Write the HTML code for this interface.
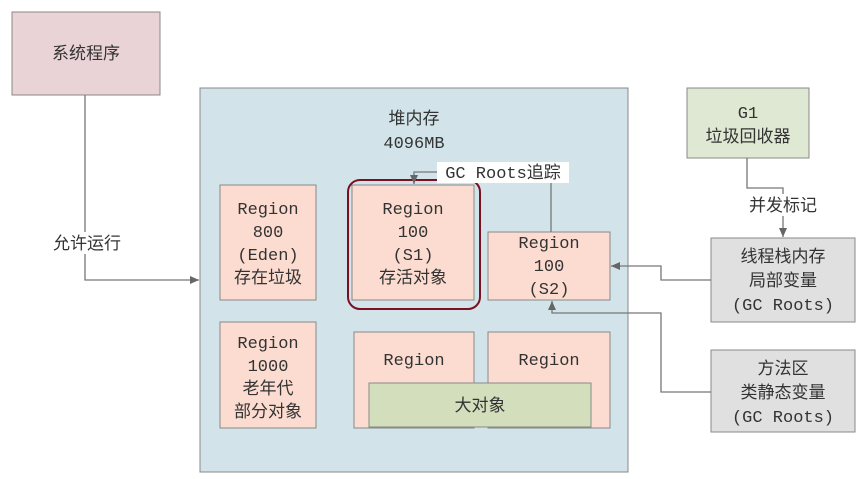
<!DOCTYPE html>
<html><head><meta charset="utf-8"><style>body{margin:0;background:#fff}svg{display:block}text{font-family:"Liberation Mono","Noto Sans CJK SC",monospace;font-size:17px;fill:#333;text-anchor:middle}</style></head><body>
<svg width="863" height="479" viewBox="0 0 863 479">
<defs><marker id="a" markerWidth="10" markerHeight="10" refX="9" refY="5" orient="auto" markerUnits="userSpaceOnUse"><path d="M0,1 L9,5 L0,9 Z" fill="#666"/></marker></defs>
<rect x="12" y="12" width="148" height="83" fill="#e9d3d6" stroke="#888"/>
<text x="86" y="59">系统程序</text>
<rect x="200" y="88" width="428" height="384" fill="#d2e4ea" stroke="#888"/>
<text x="414" y="124">堆内存</text><text x="414" y="148">4096MB</text>
<g fill="#fcdcd0" stroke="#888">
<rect x="220" y="185" width="96" height="115"/>
<rect x="352" y="185" width="122" height="115"/>
<rect x="488" y="232" width="122" height="68"/>
<rect x="220" y="322" width="96" height="106"/>
<rect x="354" y="332" width="120" height="96"/>
<rect x="488" y="332" width="122" height="96"/>
</g>
<rect x="348" y="180" width="132" height="129" rx="12" fill="none" stroke="#7a1020" stroke-width="2"/>
<rect x="369" y="383" width="222" height="44" fill="#d3dfbc" stroke="#888"/>
<text x="268" y="214">Region</text><text x="268" y="237">800</text><text x="268" y="260">(Eden)</text><text x="268" y="283">存在垃圾</text>
<text x="413" y="214">Region</text><text x="413" y="237">100</text><text x="413" y="260">(S1)</text><text x="413" y="283">存活对象</text>
<text x="549" y="248">Region</text><text x="549" y="271">100</text><text x="549" y="294">(S2)</text>
<text x="268" y="348">Region</text><text x="268" y="371">1000</text><text x="268" y="394">老年代</text><text x="268" y="417">部分对象</text>
<text x="414" y="365">Region</text><text x="549" y="365">Region</text>
<text x="480" y="411">大对象</text>
<rect x="687" y="88" width="122" height="70" fill="#dfe8d3" stroke="#888"/>
<text x="748" y="118">G1</text><text x="748" y="142">垃圾回收器</text>
<rect x="711" y="238" width="144" height="84" fill="#e0e0e0" stroke="#888"/>
<text x="783" y="262">线程栈内存</text><text x="783" y="286">局部变量</text><text x="783" y="310">(GC Roots)</text>
<rect x="711" y="350" width="144" height="82" fill="#e0e0e0" stroke="#888"/>
<text x="783" y="374">方法区</text><text x="783" y="398">类静态变量</text><text x="783" y="422">(GC Roots)</text>
<g fill="none" stroke="#777" stroke-width="1.3">
<path d="M85,95 V280 H199" marker-end="url(#a)"/>
<path d="M747,158 V188 H783 V237" marker-end="url(#a)"/>
<path d="M711,280 H661 V266 H611" marker-end="url(#a)"/>
<path d="M711,392 H661 V313 H552 V301" marker-end="url(#a)"/>
<path d="M551,232 V172 H414 V184" marker-end="url(#a)"/>
</g>
<rect x="44" y="232" width="86" height="22" fill="#fff"/>
<text x="87" y="249">允许运行</text>
<rect x="740" y="194" width="86" height="22" fill="#fff"/>
<text x="783" y="211">并发标记</text>
<rect x="437" y="162" width="132" height="21" fill="#fff"/>
<text x="503" y="178">GC Roots追踪</text>
</svg>
</body></html>
